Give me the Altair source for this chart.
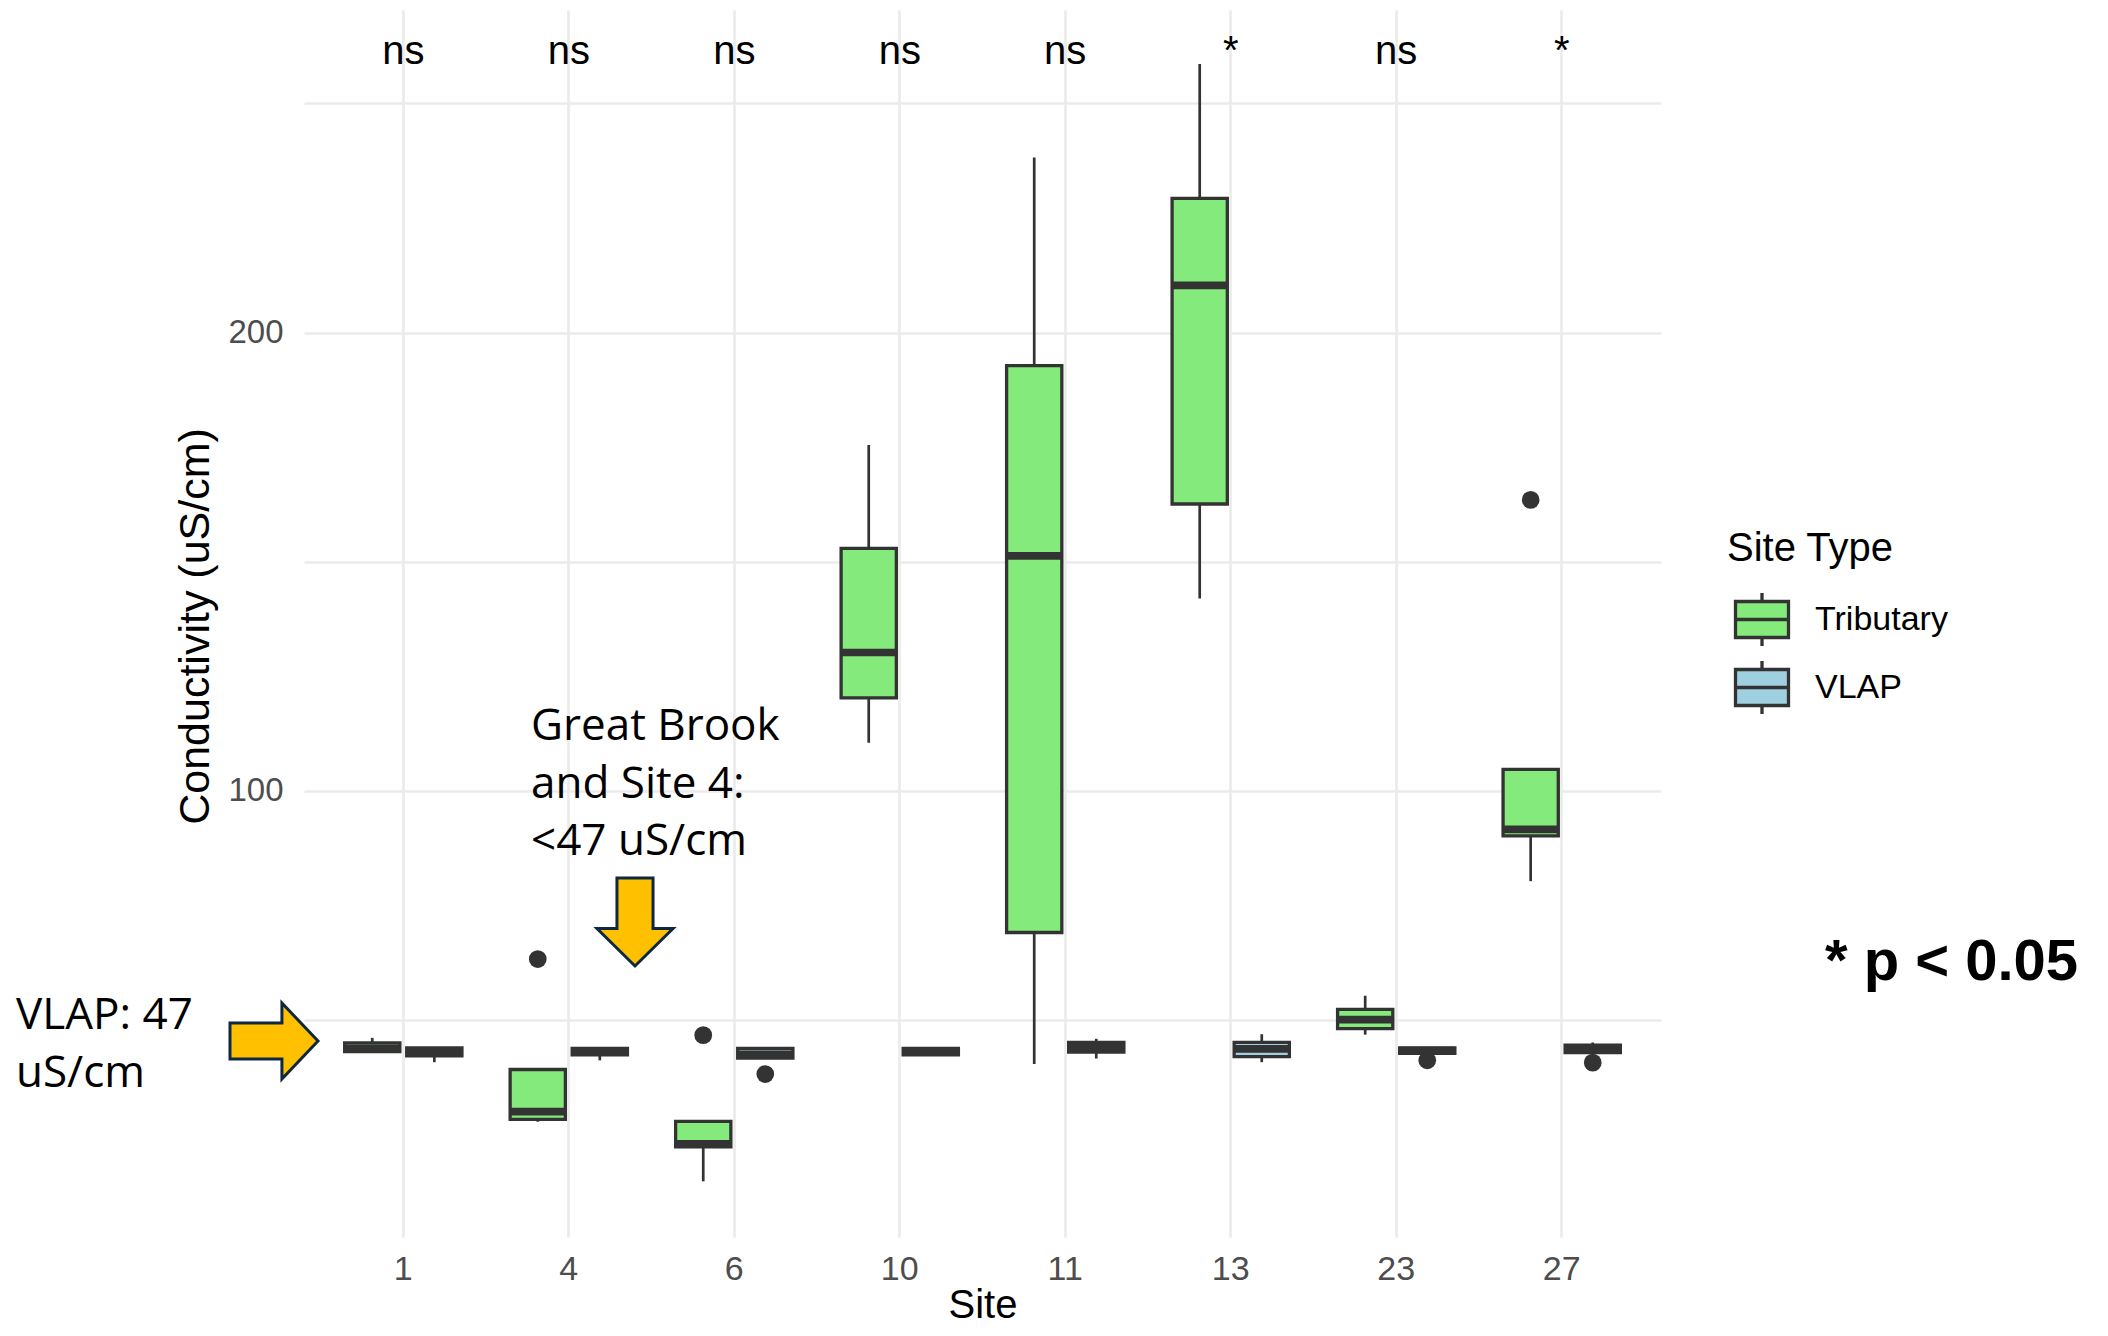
import altair as alt
import pandas as pd

# ---------------- data ----------------
sites = ["1", "4", "6", "10", "11", "13", "23", "27"]
types = ["Tributary", "VLAP"]

trib_lo  = [43.1, 27.8, 14.8, 110.5, 40.4, 142.0, 46.8, 80.3]
trib_q1  = [43.1, 28.3, 22.3, 120.3, 69.1, 162.6, 48.1, 90.2]
trib_med = [43.8, 30.0, 23.0, 130.2, 151.3, 210.3, 50.1, 91.6]
trib_q3  = [45.0, 39.2, 27.9, 152.9, 192.8, 229.3, 52.3, 104.7]
trib_hi  = [46.1, 39.2, 27.9, 175.5, 238.2, 258.6, 55.3, 104.7]

vlap_lo  = [40.8, 41.2, 41.7, 42.4, 41.6, 40.8, 42.7, 42.9]
vlap_q1  = [42.2, 42.4, 41.7, 42.4, 43.0, 42.0, 42.7, 42.9]
vlap_med = [43.0, 43.1, 42.5, 43.1, 44.0, 43.7, 43.3, 43.7]
vlap_q3  = [43.9, 43.8, 43.8, 43.8, 45.1, 45.1, 43.9, 44.5]
vlap_hi  = [43.9, 43.8, 43.8, 43.8, 45.9, 46.9, 43.9, 45.1]

out_site  = ["4", "6", "6", "23", "27", "27"]
out_type  = ["Tributary", "Tributary", "VLAP", "VLAP", "Tributary", "VLAP"]
out_value = [63.3, 46.7, 38.2, 41.2, 163.5, 40.7]

sig_labels = ["ns", "ns", "ns", "ns", "ns", "*", "ns", "*"]

# ---------------- tables ----------------
box_df = pd.DataFrame({
    "Site": sites + sites,
    "Type": ["Tributary"] * len(sites) + ["VLAP"] * len(sites),
    "lo": trib_lo + vlap_lo,
    "q1": trib_q1 + vlap_q1,
    "med": trib_med + vlap_med,
    "q3": trib_q3 + vlap_q3,
    "hi": trib_hi + vlap_hi,
})
out_df = pd.DataFrame({"Site": out_site, "Type": out_type, "value": out_value})
sig_df = pd.DataFrame({"Site": sites, "label": sig_labels})

# ---------------- styles ----------------
FONT = "Liberation Sans"
LINE = "#333333"
GREEN = "#83EA7B"
BLUE = "#9FD0E0"
W, H = 1357, 1227

xscale = alt.Scale(paddingInner=0.25, paddingOuter=0.225)
xaxis = alt.Axis(title="Site", grid=True, bandPosition=0.5, labelAngle=0,
                 labelFontSize=34, labelColor="#4D4D4D", labelPadding=15,
                 ticks=False, tickSize=0, domain=False,
                 titleFontSize=40, titleColor="#000000", titleFontWeight="normal",
                 titleBaseline="alphabetic", titleY=80)
yscale = alt.Scale(domain=[2.65, 270.4], nice=False, zero=False)
yaxis = alt.Axis(title="Conductivity (uS/cm)", values=[50, 100, 150, 200, 250],
                 labelExpr="(datum.value == 100 || datum.value == 200) ? datum.label : ''",
                 labelFontSize=33, labelColor="#4D4D4D", labelPadding=21,
                 ticks=False, tickSize=0, domain=False, grid=True,
                 titleFontSize=43, titleColor="#000000", titleFontWeight="normal",
                 titleAngle=-90, titleBaseline="alphabetic", titleAlign="center",
                 titleX=-96, titleY=616)
xoff = alt.XOffset("Type:N", sort=types,
                   scale=alt.Scale(paddingInner=0.11, paddingOuter=0.055))

def X():
    return alt.X("Site:N", sort=sites, scale=xscale, axis=xaxis)

base_box = alt.Chart(box_df)

whiskers = base_box.mark_rule(color=LINE, strokeWidth=2.7).encode(
    x=X(), xOffset=xoff,
    y=alt.Y("lo:Q", scale=yscale, axis=yaxis),
    y2="hi:Q",
)

legend_path = "M-1,-0.68L1,-0.68L1,0.68L-1,0.68Z M-1,0L1,0 M0,-0.68L0,-1 M0,0.68L0,1"

boxes = base_box.mark_bar(stroke=LINE, strokeWidth=3.3, opacity=1).encode(
    x=X(), xOffset=xoff,
    y=alt.Y("q1:Q", scale=yscale, axis=yaxis),
    y2="q3:Q",
    fill=alt.Fill("Type:N", scale=alt.Scale(domain=types, range=[GREEN, BLUE]),
                  legend=alt.Legend(title="Site Type", orient="none",
                                    legendX=1423, legendY=519,
                                    symbolType=legend_path, symbolSize=2809,
                                    symbolStrokeColor=LINE, symbolStrokeWidth=3.3,
                                    symbolOffset=6.5, labelOffset=24.5,
                                    rowPadding=1, titlePadding=22, padding=0,
                                    titleFontSize=40, titleFont=FONT,
                                    titleFontWeight="normal", titleColor="#000000",
                                    labelFontSize=34, labelFont=FONT,
                                    labelColor="#000000")),
)

medians = base_box.mark_tick(color=LINE, thickness=7.7, size=55, opacity=1).encode(
    x=X(), xOffset=xoff,
    y=alt.Y("med:Q", scale=yscale, axis=yaxis),
)

outliers = alt.Chart(out_df).mark_circle(size=314, color=LINE, opacity=1).encode(
    x=X(), xOffset=xoff,
    y=alt.Y("value:Q", scale=yscale, axis=yaxis),
)

sig = alt.Chart(sig_df).mark_text(fontSize=40, font=FONT, color="#000000",
                                  baseline="alphabetic", align="center").encode(
    x=X(),
    y=alt.value(54),
    text="label:N",
)

# ---------------- annotations ----------------
one = pd.DataFrame({"k": [0]})
right_arrow = "M-1,-0.41L0.18,-0.41L0.18,-0.864L1,0L0.18,0.864L0.18,0.41L-1,0.41Z"
down_arrow = "M-0.41,-1L0.41,-1L0.41,0.15L0.864,0.15L0,1L-0.864,0.15L-0.41,0.15Z"

arrow1 = alt.Chart(one).mark_point(shape=right_arrow, size=7744, filled=True,
                                   fill="#FFC000", stroke="#0E2841",
                                   strokeWidth=3, opacity=1).encode(
    x=alt.value(-30), y=alt.value(1031))
arrow2 = alt.Chart(one).mark_point(shape=down_arrow, size=7744, filled=True,
                                   fill="#FFC000", stroke="#0E2841",
                                   strokeWidth=3, opacity=1).encode(
    x=alt.value(331), y=alt.value(912))

vlap_text = alt.Chart(one).mark_text(
    text=["VLAP: 47", "uS/cm"], font="Open Sans", fontSize=44, color="#000000",
    align="left", baseline="alphabetic", lineHeight=58).encode(
    x=alt.value(-288), y=alt.value(1019))
brook_text = alt.Chart(one).mark_text(
    text=["Great Brook", "and Site 4:", "<47 uS/cm"], font="Open Sans", fontSize=44,
    color="#000000", align="left", baseline="alphabetic", lineHeight=57.5).encode(
    x=alt.value(227), y=alt.value(730))
p_text = alt.Chart(one).mark_text(
    text="* p < 0.05", font=FONT, fontSize=58, fontWeight="bold", color="#000000",
    align="left", baseline="alphabetic").encode(
    x=alt.value(1521), y=alt.value(970))

chart = alt.layer(
    whiskers, boxes, medians, outliers, sig,
    arrow1, arrow2, vlap_text, brook_text, p_text,
).properties(
    width=W, height=H,
    autosize=alt.AutoSizeParams(type="none"),
    padding={"left": 296, "top": 2, "right": 439, "bottom": 91},
    background="white",
).configure(font=FONT).configure_view(stroke=None).configure_axis(
    gridColor="#EBEBEB", gridWidth=2.7, labelFont=FONT, titleFont=FONT,
)

chart.save("out.html", embed_options={"renderer": "svg", "actions": False})
